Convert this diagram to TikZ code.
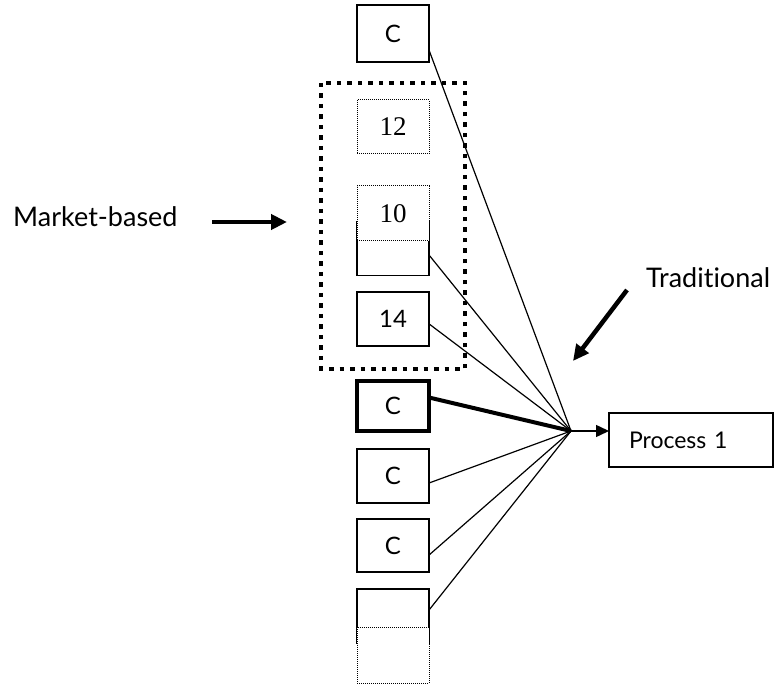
\documentclass[tikz,border=0pt]{standalone}
\usepackage{fontspec}
\setmainfont{Lato}[Ligatures={NoCommon,NoContextual}]
\newfontfamily\numserif{Liberation Serif}
\usetikzlibrary{arrows.meta,calc}
\begin{document}
\begin{tikzpicture}[x=1pt,y=-1pt,
  cell/.style={draw,line width=1.2pt,fill=white,minimum width=72pt,minimum height=54pt,inner sep=0pt,outer sep=0pt},
  dotcell/.style={cell,line width=1pt,dash pattern=on 1pt off 1pt},
  heavycell/.style={cell,line width=4pt},
  lbl/.style={font=\fontsize{24}{27}\selectfont},
  biglbl/.style={font=\fontsize{27}{30}\selectfont},
  serifnum/.style={font=\numserif\fontsize{27}{30}\selectfont},
  link/.style={line width=1.2pt},
  bigarrow/.style={line width=4.5pt,-{Triangle[length=16pt,width=15pt]}},
]
\useasboundingbox (0,0) rectangle (779,684);

% market-based group outline
\draw[line width=4.5pt,dash pattern=on 4.5pt off 6pt] (321,83) rectangle (465,369);

% column of boxes
\node[cell,lbl,minimum height=57pt] (c1) at (393,33.5) {C};
\node[dotcell,serifnum] (d12) at (393,127) {12};
\node[cell] (e1) at (393,248.5) {};
\node[dotcell,serifnum,minimum height=55pt] (d10) at (393,213.5) {10};
\node[cell,lbl] (b14) at (393,319) {14};
\node[heavycell,lbl,minimum height=50pt] (ct) at (393,406) {C};
\node[cell,lbl] (c2) at (393,476) {C};
\node[cell,lbl,minimum height=53pt] (c3) at (393,545.5) {C};
\node[cell] (e2) at (393,616) {};
\node[dotcell,minimum height=56pt] (d2) at (393,655) {};

% target process
\node[cell,font=\fontsize{23}{26}\selectfont,minimum width=164pt,text width=124pt,inner xsep=20pt,align=left] (p1) at (691,440) {Process 1};

% convergence point
\coordinate (hub) at (571,431);

\draw[link] ($(c1.north east)!0.79!(c1.south east)$) -- (hub);
\draw[link] ($(e1.north east)!0.62!(e1.south east)$) -- (hub);
\draw[link] ($(b14.north east)!0.59!(b14.south east)$) -- (hub);
\draw[line width=4pt] ($(ct.north east)!0.33!(ct.south east)$) -- (hub);
\draw[link] ($(c2.north east)!0.63!(c2.south east)$) -- (hub);
\draw[link] ($(c3.north east)!0.68!(c3.south east)$) -- (hub);
\draw[link] ($(e2.north east)!0.39!(e2.south east)$) -- (hub);
\draw[line width=1.5pt,-{Triangle[length=13pt,width=12pt]}] (hub) -- (p1.west |- hub);

% labels with pointers
\node[biglbl,anchor=base west,inner sep=0pt] (mb) at (13,227) {Market-based};
\coordinate (mbs) at (212,222);
\coordinate (mbt) at (287,222);
\draw[bigarrow] (mbs) -- (mbt);

\node[biglbl,anchor=base west,inner sep=0pt] (tr) at (646,288) {Traditional};
\coordinate (trs) at (627,290);
\coordinate (trt) at (573,361);
\draw[bigarrow] (trs) -- (trt);
\end{tikzpicture}
\end{document}
